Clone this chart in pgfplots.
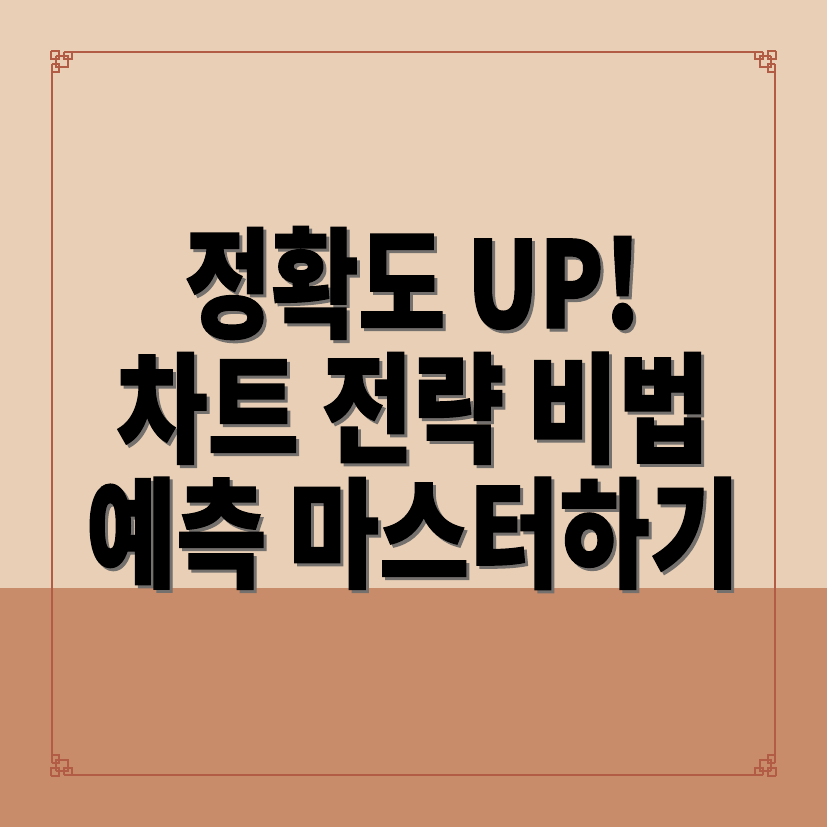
\documentclass[border=0pt]{standalone}
\usepackage{fontspec}
\usepackage{pgfplots}
\pgfplotsset{compat=1.18}
\usepackage{pgfplotstable}
\newfontfamily\kr{Noto Sans CJK KR}[BoldFeatures={FakeBold=1.2}]
\definecolor{paper}{RGB}{232,207,181}
\definecolor{band}{RGB}{201,140,106}
\definecolor{frame}{RGB}{178,92,70}
\definecolor{shade}{RGB}{115,112,110}

% corner ornament, top-left corner, in pixel coordinates
\pgfplotstableread{
x y
51 51
59 51
59 59
51 59
51 51
nan nan
64 52
72 52
72 59
64 59
64 52
nan nan
52 64
59 64
59 72
52 72
52 64
nan nan
56 56
67.5 56
67.5 67.5
56 67.5
56 56
}\ornament

\newcommand{\titleline}[4]{%
  \node[anchor=base, xscale=#4, text=shade, font=\kr\bfseries\fontsize{120}{125}\selectfont]
    at (axis cs:#1+3,#2+3) {#3};
  \node[anchor=base, xscale=#4, text=black, font=\kr\bfseries\fontsize{120}{125}\selectfont]
    at (axis cs:#1,#2) {#3};
}

\begin{document}
\begin{tikzpicture}
\begin{axis}[
  width=827bp, height=827bp,
  scale only axis,
  xmin=0, xmax=827, ymin=0, ymax=827,
  y dir=reverse,
  hide axis,
  clip=false,
  unbounded coords=jump,
]
% background
\addplot[fill=paper, draw=none] coordinates {(0,0) (827,0) (827,588) (0,588)} -- cycle;
\addplot[fill=band, draw=none] coordinates {(0,588) (827,588) (827,827) (0,827)} -- cycle;

% frame
\addplot[color=frame, line width=2bp] coordinates {(64,52) (763,52)};
\addplot[color=frame, line width=2bp] coordinates {(64,775) (763,775)};
\addplot[color=frame, line width=2bp] coordinates {(52,64) (52,763)};
\addplot[color=frame, line width=2bp] coordinates {(775,64) (775,763)};

% ornaments in the four corners
\addplot[color=frame, line width=2bp] table[x=x, y=y] {\ornament};
\addplot[color=frame, line width=2bp] table[x expr=827-\thisrow{x}, y=y] {\ornament};
\addplot[color=frame, line width=2bp] table[x=x, y expr=827-\thisrow{y}] {\ornament};
\addplot[color=frame, line width=2bp] table[x expr=827-\thisrow{x}, y expr=827-\thisrow{y}] {\ornament};

% title
\titleline{413}{328}{정확도 UP!}{0.79}
\titleline{413}{453}{차트 전략 비법}{0.83}
\titleline{413}{578}{예측 마스터하기}{0.82}
\end{axis}
\end{tikzpicture}
\end{document}
